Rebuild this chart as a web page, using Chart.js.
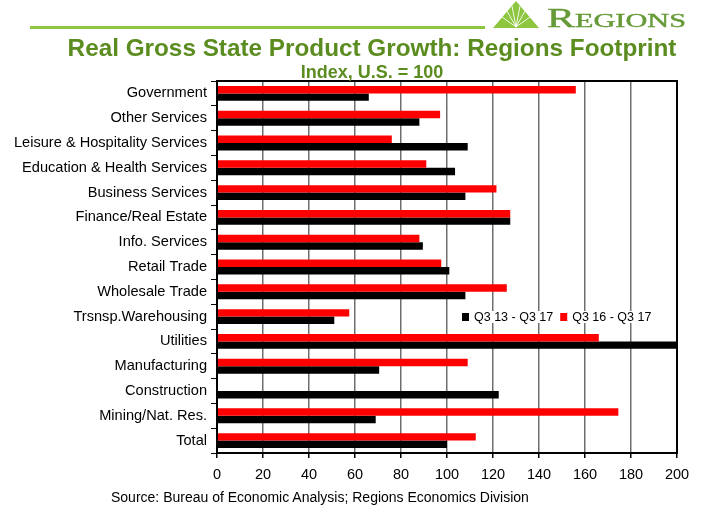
<!DOCTYPE html>
<html>
<head>
<meta charset="utf-8">
<title>Real Gross State Product Growth</title>
<script src="https://cdn.jsdelivr.net/npm/chart.js@4"></script>
<style>
  body { margin: 0; background: #fff; }
  #page { position: relative; width: 704px; height: 510px; overflow: hidden; font-family: "Liberation Sans", Arial, sans-serif; }
  #chart { position: absolute; left: 0; top: 0; }
  .rule { position: absolute; left: 30px; top: 26px; width: 455px; height: 3px; background: #8dc63f; }
  .title { position: absolute; left: 0; width: 744px; text-align: center; color: #5b8c1f; font-weight: bold; line-height: 1; white-space: nowrap; }
  #mainTitle { top: 36px; font-size: 24.3px; }
  #subTitle { top: 63px; font-size: 18px; }
  #source { position: absolute; left: 111px; top: 490px; font-size: 14px; line-height: 1; color: #000; white-space: nowrap; }
  #logo { position: absolute; left: 480px; top: 0; }
</style>
</head>
<body>
<div id="page">
  <canvas id="chart" width="704" height="510"></canvas>
  <div class="rule"></div>
  <svg id="logo" width="224" height="34" viewBox="0 0 224 34">
    <polygon points="13,28 36,1 59,28" fill="#8dc63f"/>
    <g stroke="#fff" stroke-width="0.9">
      <line x1="36" y1="27" x2="22" y2="17"/>
      <line x1="36" y1="27" x2="27" y2="11"/>
      <line x1="36" y1="27" x2="32" y2="6"/>
      <line x1="36" y1="27" x2="40" y2="6"/>
      <line x1="36" y1="27" x2="45" y2="11"/>
      <line x1="36" y1="27" x2="50" y2="17"/>
    </g>
    <text x="67" y="27" fill="#669a38" stroke="#669a38" stroke-width="0.4" font-family="Liberation Serif, DejaVu Serif, serif" textLength="139" lengthAdjust="spacingAndGlyphs"><tspan font-size="27">R</tspan><tspan font-size="19.5">EGIONS</tspan></text>
  </svg>
  <div class="title" id="mainTitle">Real Gross State Product Growth: Regions Footprint</div>
  <div class="title" id="subTitle">Index, U.S. = 100</div>
  <div id="source">Source: Bureau of Economic Analysis; Regions Economics Division</div>
</div>
<script>
// Sectors, listed from the top of the chart down
const sectors = [
    'Government', 'Other Services', 'Leisure & Hospitality Services', 'Education & Health Services',
    'Business Services', 'Finance/Real Estate', 'Info. Services', 'Retail Trade', 'Wholesale Trade',
    'Trsnsp.Warehousing', 'Utilities', 'Manufacturing', 'Construction', 'Mining/Nat. Res.', 'Total'
];

// Index values, U.S. = 100
const q3_16_q3_17 = [156, 97, 76, 91, 121.5, 127.5, 88, 97.5, 126, 57.5, 166, 109, null, 174.5, 112.5];
const q3_13_q3_17 = [66, 88, 109, 103.5, 108, 127.5, 89.5, 101, 108, 51, 200, 70.5, 122.5, 69, 100];

const xTicks = [0, 20, 40, 60, 80, 100, 120, 140, 160, 180, 200];

// Black frame round the plot area plus the legend box inside it
const frameAndLegend = {
    id: 'frameAndLegend',
    afterDraw(chart) {
        const { ctx, chartArea: a } = chart;
        ctx.save();
        ctx.strokeStyle = '#000';
        ctx.lineWidth = 2;
        ctx.strokeRect(a.left, a.top, a.right - a.left, a.bottom - a.top);

        // legend shows the longer period first
        const items = chart.data.datasets.slice().reverse();
        ctx.font = '12.5px "Liberation Sans", Arial, sans-serif';
        ctx.textBaseline = 'middle';
        let x = 462;
        const y = 317;
        const widths = items.map(d => ctx.measureText(d.label).width);
        const total = widths.reduce((s, w) => s + w + 19, 0) - 7;
        ctx.fillStyle = '#fff';
        ctx.fillRect(x - 2, y - 6, total + 4, 12);
        items.forEach((d, i) => {
            ctx.fillStyle = d.backgroundColor;
            ctx.fillRect(x, y - 4, 7, 8);
            ctx.fillStyle = '#000';
            ctx.fillText(d.label, x + 12, y + 0.5);
            x += 12 + widths[i] + 7;
        });
        ctx.restore();
    }
};

Chart.defaults.font.family = '"Liberation Sans", Arial, sans-serif';
Chart.defaults.color = '#000';

new Chart(document.getElementById('chart'), {
    type: 'bar',
    data: {
        labels: sectors,
        datasets: [
            { label: 'Q3 16 - Q3 17', data: q3_16_q3_17, backgroundColor: '#ff0000' },
            { label: 'Q3 13 - Q3 17', data: q3_13_q3_17, backgroundColor: '#000000' }
        ]
    },
    options: {
        indexAxis: 'y',
        responsive: false,
        animation: false,
        layout: { padding: { top: 81, right: 27, left: 0, bottom: 0 } },
        datasets: { bar: { categoryPercentage: 0.6, barPercentage: 1 } },
        plugins: {
            legend: { display: false },
            tooltip: { enabled: false }
        },
        scales: {
            x: {
                min: 0,
                max: 200,
                afterBuildTicks(scale) { scale.ticks = xTicks.map(v => ({ value: v })); },
                afterFit(scale) { scale.height = 57; },
                ticks: { font: { size: 14.5 }, padding: 8 },
                grid: { color: '#6e6e6e', lineWidth: 1.5, tickLength: 5, tickColor: '#000' },
                border: { color: '#000', width: 2 }
            },
            y: {
                afterFit(scale) { scale.width = 217; },
                ticks: { font: { size: 14.6 }, padding: 4 },
                grid: { drawOnChartArea: false, tickLength: 6, color: '#000', lineWidth: 1 },
                border: { color: '#000', width: 2 }
            }
        }
    },
    plugins: [frameAndLegend]
});
</script>
</body>
</html>
